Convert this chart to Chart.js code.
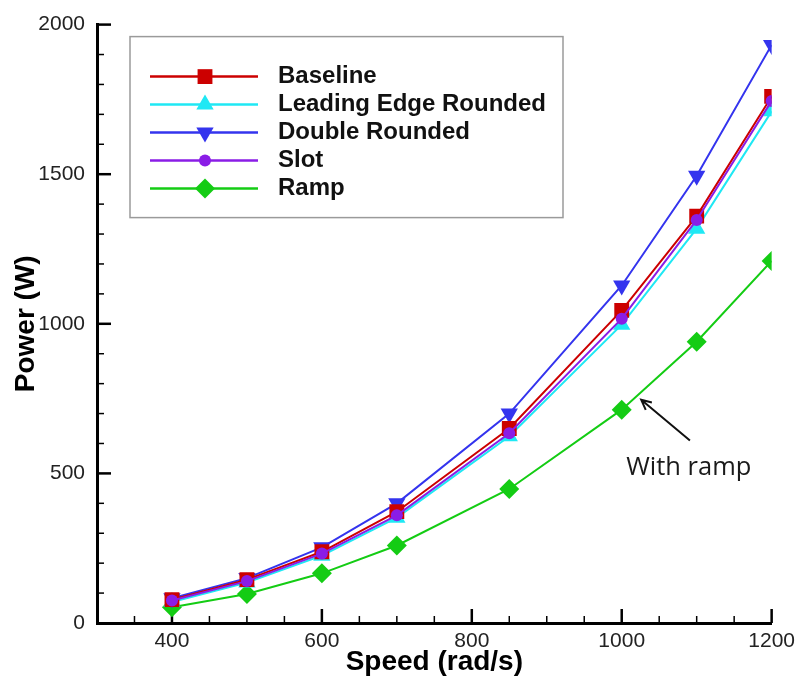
<!DOCTYPE html>
<html>
<head>
<meta charset="utf-8">
<title>Power vs Speed</title>
<script src="https://cdn.jsdelivr.net/npm/chart.js@4.4.1/dist/chart.umd.min.js"></script>
<style>
  html, body { margin: 0; padding: 0; background: #fff; }
  #powerChart { display: block; }
</style>
</head>
<body>
<canvas id="powerChart" width="801" height="680"></canvas>
<script>
// Data
const speeds = [400, 500, 600, 700, 850, 1000, 1100, 1200];
const baseline = [78, 145, 238, 372, 650, 1045, 1360, 1760];
const leadingEdgeRounded = [70, 135, 225, 352, 624, 997, 1318, 1710];
const doubleRounded = [83, 150, 253, 400, 700, 1128, 1495, 1932];
const slot = [75, 140, 232, 360, 634, 1017, 1347, 1745];
const ramp = [53, 97, 166, 259, 448, 713, 940, 1210];

const seriesNames = ['Baseline', 'Leading Edge Rounded', 'Double Rounded', 'Slot', 'Ramp'];
const xTickLabels = [400, 600, 800, 1000, 1200];
const yTickLabels = [0, 500, 1000, 1500, 2000];

// Callout (in data units)
const noteText = 'With ramp';
const noteAt = { x: 1006, y: 520 };
const arrowFrom = { x: 1091, y: 610 };
const arrowTo = { x: 1026, y: 746 };

// Series styles
const seriesStyles = [
    { color: '#cc0000', pointStyle: 'rect', radius: 10.5, rotation: 0, order: 1 },
    { color: '#1fe8f4', pointStyle: 'triangle', radius: 10, rotation: 0, order: 2 },
    { color: '#3434ee', pointStyle: 'triangle', radius: 10, rotation: 180, order: 3 },
    { color: '#8a1de6', pointStyle: 'circle', radius: 6, rotation: 0, order: 0 },
    { color: '#14cc14', pointStyle: 'rectRot', radius: 10, rotation: 0, order: 4 }
];

const seriesValues = [baseline, leadingEdgeRounded, doubleRounded, slot, ramp];

const datasets = seriesValues.map((values, i) => {
    const s = seriesStyles[i];
    return {
        label: seriesNames[i],
        data: speeds.map((sp, j) => ({ x: sp, y: values[j] })),
        borderColor: s.color,
        backgroundColor: s.color,
        borderWidth: 2,
        pointStyle: s.pointStyle,
        pointRadius: s.radius,
        pointRotation: s.rotation,
        pointBorderWidth: 0,
        pointBackgroundColor: s.color,
        tension: 0,
        order: s.order
    };
});

Chart.defaults.font.family = '"Liberation Sans", Arial, sans-serif';

// Tick marks pointing into the plot
const inwardTicks = {
    id: 'inwardTicks',
    beforeDatasetsDraw(chart) {
        const { ctx, chartArea, scales: { x, y } } = chart;
        ctx.save();
        ctx.strokeStyle = '#000';
        x.ticks.forEach(t => {
            if (t.value === x.min) return;
            const major = xTickLabels.includes(Math.round(t.value));
            const px = x.getPixelForValue(t.value);
            ctx.lineWidth = major ? 2.5 : 1.5;
            ctx.beginPath();
            ctx.moveTo(px, chartArea.bottom);
            ctx.lineTo(px, chartArea.bottom - (major ? 14 : 7));
            ctx.stroke();
        });
        y.ticks.forEach(t => {
            if (t.value === y.min) return;
            const major = yTickLabels.includes(Math.round(t.value));
            const py = y.getPixelForValue(t.value);
            ctx.lineWidth = major ? 2.5 : 1.5;
            ctx.beginPath();
            ctx.moveTo(chartArea.left, py);
            ctx.lineTo(chartArea.left + (major ? 14 : 7), py);
            ctx.stroke();
        });
        ctx.restore();
    }
};

// Boxed legend with line + marker samples
const boxLegend = {
    id: 'boxLegend',
    afterDraw(chart) {
        const { ctx, chartArea } = chart;
        const left = chartArea.left + 33;
        const top = chartArea.top + 12;
        ctx.save();
        ctx.strokeStyle = '#9a9a9a';
        ctx.lineWidth = 1.5;
        ctx.strokeRect(left, top, 433, 181);
        chart.data.datasets.forEach((ds, i) => {
            const rowY = top + 40 + i * 28;
            ctx.strokeStyle = ds.borderColor;
            ctx.lineWidth = 2.5;
            ctx.beginPath();
            ctx.moveTo(left + 20, rowY);
            ctx.lineTo(left + 128, rowY);
            ctx.stroke();
            ctx.fillStyle = ds.pointBackgroundColor;
            Chart.helpers.drawPoint(ctx, {
                pointStyle: ds.pointStyle,
                rotation: ds.pointRotation,
                radius: ds.pointRadius,
                borderWidth: 0
            }, left + 75, rowY);
            ctx.fillStyle = '#111';
            ctx.font = 'bold 24px "Liberation Sans", Arial, sans-serif';
            ctx.textBaseline = 'middle';
            ctx.textAlign = 'left';
            ctx.fillText(ds.label, left + 148, rowY);
        });
        ctx.restore();
    }
};

// "With ramp" note and arrow
const rampNote = {
    id: 'rampNote',
    afterDraw(chart) {
        const { ctx, scales: { x, y } } = chart;
        const x1 = x.getPixelForValue(arrowFrom.x), y1 = y.getPixelForValue(arrowFrom.y);
        const x2 = x.getPixelForValue(arrowTo.x), y2 = y.getPixelForValue(arrowTo.y);
        const ang = Math.atan2(y2 - y1, x2 - x1);
        ctx.save();
        ctx.strokeStyle = '#111';
        ctx.lineWidth = 2;
        ctx.beginPath();
        ctx.moveTo(x1, y1);
        ctx.lineTo(x2, y2);
        ctx.moveTo(x2 - 11 * Math.cos(ang - 0.45), y2 - 11 * Math.sin(ang - 0.45));
        ctx.lineTo(x2, y2);
        ctx.lineTo(x2 - 11 * Math.cos(ang + 0.45), y2 - 11 * Math.sin(ang + 0.45));
        ctx.stroke();
        ctx.fillStyle = '#1a1a1a';
        ctx.font = '25.5px "Open Sans", sans-serif';
        ctx.textBaseline = 'middle';
        ctx.textAlign = 'left';
        ctx.fillText(noteText, x.getPixelForValue(noteAt.x), y.getPixelForValue(noteAt.y));
        ctx.restore();
    }
};

const ctx = document.getElementById('powerChart').getContext('2d');
new Chart(ctx, {
    type: 'line',
    data: { datasets: datasets },
    options: {
        responsive: false,
        animation: false,
        layout: { padding: { left: 0, right: 27, top: 20, bottom: 0 } },
        plugins: {
            legend: { display: false },
            tooltip: { enabled: false }
        },
        scales: {
            x: {
                type: 'linear',
                min: 300,
                max: 1200,
                afterFit: scale => { scale.height = 57; },
                grid: { display: false, drawTicks: false },
                border: { display: true, color: '#000', width: 3 },
                ticks: {
                    stepSize: 50,
                    autoSkip: false,
                    maxRotation: 0,
                    padding: 6,
                    color: '#222',
                    font: { size: 21 },
                    callback: v => xTickLabels.includes(Math.round(v)) ? String(v) : ''
                },
                title: {
                    display: true,
                    text: 'Speed (rad/s)',
                    color: '#000',
                    font: { size: 28, weight: 'bold', lineHeight: 1.2 },
                    padding: { top: 0, bottom: 1 }
                }
            },
            y: {
                type: 'linear',
                min: 0,
                max: 2000,
                afterFit: scale => { scale.width = 97; },
                grid: { display: false, drawTicks: false },
                border: { display: true, color: '#000', width: 3 },
                ticks: {
                    stepSize: 100,
                    autoSkip: false,
                    padding: 12,
                    color: '#222',
                    font: { size: 21 },
                    callback: v => yTickLabels.includes(Math.round(v)) ? String(v) : ''
                },
                title: {
                    display: true,
                    text: 'Power (W)',
                    color: '#000',
                    font: { size: 28, weight: 'bold', lineHeight: 1.2 },
                    padding: { top: 9, bottom: 0 }
                }
            }
        }
    },
    plugins: [inwardTicks, boxLegend, rampNote]
});
</script>
</body>
</html>
